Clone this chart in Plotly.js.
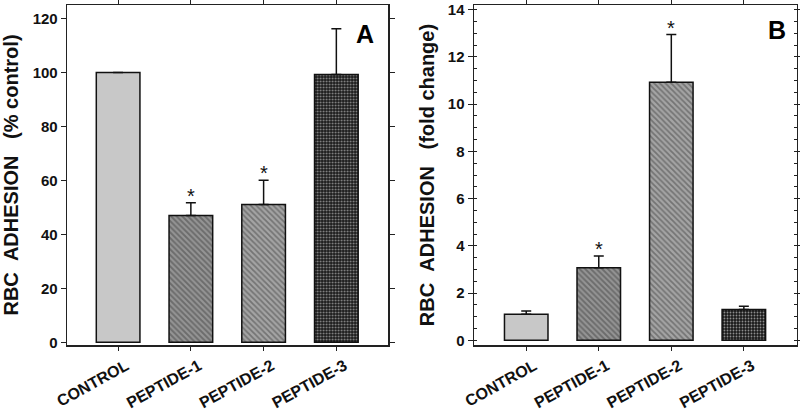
<!DOCTYPE html>
<html><head><script src="https://cdn.plot.ly/plotly-3.0.1.min.js"></script>
<style>body{margin:0;background:#fff}</style></head>
<body><div id="chart" style="width:800px;height:412px"></div>
<script>
const categories = ["CONTROL", "PEPTIDE-1", "PEPTIDE-2", "PEPTIDE-3"];
const adhesionPct = [100, 47, 51.1, 99.2];
const adhesionPctErr = [0, 4.7, 9, 17];
const foldChange = [1.1, 3.07, 10.93, 1.3];
const foldChangeErr = [0.14, 0.5, 2.02, 0.14];
const starsA = [false, true, true, false];
const starsB = [false, true, true, false];
const yTicksA = [0, 20, 40, 60, 80, 100, 120];
const yTicksB = [0, 2, 4, 6, 8, 10, 12, 14];

const FONT = "Liberation Sans, Arial, sans-serif";
const fills = {
  color: ["#c8c8c8", "#959595", "#a4a4a4", "#1a1a1a"],
  pattern: {
    shape: ["", "\\", "\\", "."],
    fgcolor: ["#c8c8c8", "#1c1c1c", "#262626", "#7a7a7a"],
    size: [4, 4, 4, 3],
    solidity: [0.3, 0.5, 0.45, 0.3],
    fillmode: "overlay"
  },
  line: {color: "#111", width: 1.5}
};

function barTrace(vals, errs, xa, ya) {
  return {
    type: "bar", x: categories, y: vals, xaxis: xa, yaxis: ya,
    width: 0.6, marker: fills, showlegend: false,
    error_y: {type: "data", symmetric: false, array: errs,
              arrayminus: errs.map(() => 0), color: "#111", thickness: 1.5, width: 5,
              visible: true}
  };
}

const traces = [
  barTrace(adhesionPct, adhesionPctErr.map(e => e || null), "x", "y"),
  barTrace(foldChange, foldChangeErr, "x2", "y2")
];

const annotations = [];
const starFont = {family: FONT, size: 20, color: "#111"};
categories.forEach((c, i) => {
  if (starsA[i]) annotations.push({x: c, y: adhesionPct[i] + adhesionPctErr[i], xref: "x", yref: "y",
    text: "*", showarrow: false, yanchor: "bottom", yshift: -6, font: starFont});
  if (starsB[i]) annotations.push({x: c, y: foldChange[i] + foldChangeErr[i], xref: "x2", yref: "y2",
    text: "*", showarrow: false, yanchor: "bottom", yshift: -6, font: starFont});
});
annotations.push({xref: "paper", yref: "paper", x: 0.456, y: 0.915, text: "<b>A</b>", showarrow: false,
  xanchor: "center", yanchor: "middle", font: {family: FONT, size: 25, color: "#000"}});
annotations.push({xref: "paper", yref: "paper", x: 0.971, y: 0.925, text: "<b>B</b>", showarrow: false,
  xanchor: "center", yanchor: "middle", font: {family: FONT, size: 25, color: "#000"}});

const xCommon = {
  type: "category", showline: true, linecolor: "#222", linewidth: 1.5, mirror: "ticks",
  ticks: "outside", ticklen: 4, tickcolor: "#222", tickangle: -29, ticklabelshift: 8,
  tickfont: {family: FONT, size: 16, color: "#111", weight: "bold"},
  showgrid: false, zeroline: false, fixedrange: true
};
const yCommon = {
  showline: true, linecolor: "#222", linewidth: 1.5, mirror: "ticks",
  ticks: "outside", ticklen: 5, tickcolor: "#222",
  tickfont: {family: FONT, size: 15, color: "#111", weight: "bold"},
  showgrid: false, zeroline: false, fixedrange: true
};

const layout = {
  width: 800, height: 412,
  margin: {l: 0, r: 0, t: 5, b: 67},
  paper_bgcolor: "#fff", plot_bgcolor: "#fff",
  xaxis: Object.assign({}, xCommon, {domain: [0.084, 0.485], range: [-0.7, 3.71], anchor: "y"}),
  xaxis2: Object.assign({}, xCommon, {domain: [0.5925, 0.996], range: [-0.72, 3.73], anchor: "y2"}),
  yaxis: Object.assign({}, yCommon, {range: [-1, 125], tickvals: yTicksA, anchor: "x",
    title: {text: "<b>RBC\u00a0\u00a0ADHESION\u00a0\u00a0\u00a0(%\u00a0control)</b>", standoff: 8,
      font: {family: FONT, size: 20, color: "#111"}}}),
  yaxis2: Object.assign({}, yCommon, {range: [-0.2, 14.2], tickvals: yTicksB, anchor: "x2",
    minor: {dtick: 0.5, ticks: "inside", ticklen: 3, tickcolor: "#222"},
    title: {text: "<b>RBC\u00a0\u00a0ADHESION\u00a0\u00a0\u00a0(fold\u00a0change)</b>", standoff: 8,
      font: {family: FONT, size: 20, color: "#111"}}}),
  annotations: annotations
};

Plotly.newPlot("chart", traces, layout, {displayModeBar: false, staticPlot: true});
</script></body></html>
